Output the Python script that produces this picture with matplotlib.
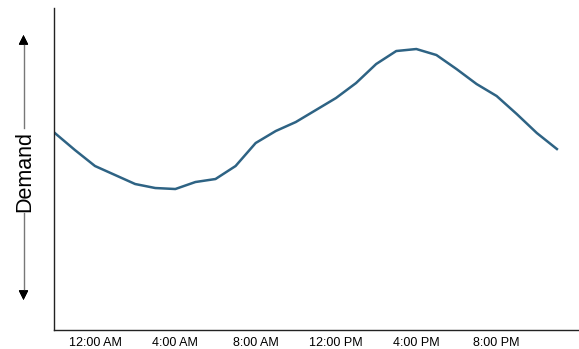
import numpy as np
import matplotlib.pyplot as plt

plt.rcParams['font.family'] = ['Liberation Sans', 'DejaVu Sans']

# heures depuis minuit (de 22h la veille à 23h)
heures = list(range(-2, 24))
demande = [197, 180, 164, 155, 146, 142, 141, 148, 151, 164, 187, 199, 208,
           220, 232, 247, 266, 279, 281, 275, 261, 246, 234, 216, 197, 181]

tick_heures = [0, 4, 8, 12, 16, 20]
tick_labels = ["12:00 AM", "4:00 AM", "8:00 AM", "12:00 PM", "4:00 PM", "8:00 PM"]

fig = plt.figure(figsize=(5.79, 3.49), dpi=100)
ax = fig.add_axes([0.0933, 0.0544, 0.9067, 0.9226])

ax.plot(heures, demande, color='#2e6384', linewidth=1.8)

ax.set_xlim(-2.04, 24.1)
ax.set_ylim(0, 322)
ax.set_xticks(tick_heures)
ax.set_xticklabels(tick_labels, fontsize=9)
ax.tick_params(axis='x', length=0, pad=5)
ax.set_yticks([])

for s in ['top', 'right']:
    ax.spines[s].set_visible(False)
for s in ['left', 'bottom']:
    ax.spines[s].set_color('#222222')
    ax.spines[s].set_linewidth(1.0)

# étiquette verticale avec flèches
fig.text(25 / 579, 1 - 171 / 349, "Demand", rotation=90, fontsize=15.5,
         ha='center', va='center')

def px(x, y):
    return x / 579, 1 - y / 349

xf = 23.5
# traits gris
for y0, y1 in [(42, 128), (213, 293)]:
    (xa, ya), (xb, yb) = px(xf, y0), px(xf, y1)
    fig.add_artist(plt.Line2D([xa, xb], [ya, yb], color='#777777', lw=1.0))
# pointes noires
pointe = dict(arrowstyle='-|>,head_length=0.6,head_width=0.3', color='black',
              lw=0.6, mutation_scale=10, shrinkA=0, shrinkB=0)
for tip, base in [(35, 44), (300, 291)]:
    fig.add_artist(plt.annotate("", xy=px(xf, tip), xycoords='figure fraction',
                                xytext=px(xf, base), textcoords='figure fraction',
                                arrowprops=pointe))

fig.savefig("out.png", dpi=100)
